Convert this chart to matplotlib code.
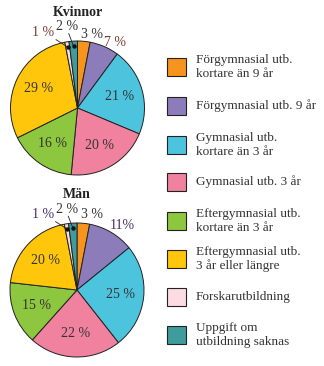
import numpy as np
import matplotlib.pyplot as plt
from matplotlib.patches import Rectangle

plt.rcParams['font.family'] = ['Liberation Serif', 'DejaVu Serif']

# Utbildningsnivå, andel i procent
categories = [
    'Förgymnasial utb.\nkortare än 9 år',
    'Förgymnasial utb. 9 år',
    'Gymnasial utb.\nkortare än 3 år',
    'Gymnasial utb. 3 år',
    'Eftergymnasial utb.\nkortare än 3 år',
    'Eftergymnasial utb.\n3 år eller längre',
    'Forskarutbildning',
    'Uppgift om\nutbildning saknas',
]
kvinnor = [3, 7, 21, 20, 16, 29, 1, 2]
man = [3, 11, 25, 22, 15, 20, 1, 2]
colors = ['#F7941D', '#8C7DBA', '#4DC4DD', '#F0819F',
          '#8DC63F', '#FFC60B', '#FCDCE2', '#3E9C9C']

W, H = 324, 366
fig = plt.figure(figsize=(W / 100, H / 100), dpi=100)


def px_axes(x0, y0, w, h):
    # axes placed in pixel coordinates measured from the top-left corner
    return fig.add_axes([x0 / W, 1 - (y0 + h) / H, w / W, h / H])


def draw_pie(ax, values, title, small_offsets, small_colors):
    wedges, _ = ax.pie(values, colors=colors, startangle=90, counterclock=False,
                       radius=1, wedgeprops=dict(edgecolor='#222222', linewidth=0.7))
    ax.set_xlim(-1, 1)
    ax.set_ylim(-1, 1)
    ax.set_aspect('equal')
    ax.axis('off')
    ax.text(0, 1.43, title, ha='center', va='center', fontsize=10,
            fontweight='bold', color='#222222')
    for i, (w, v) in enumerate(zip(wedges, values)):
        ang = np.deg2rad((w.theta1 + w.theta2) / 2)
        txt = f'{v} %' if v < 10 or i != 1 else f'{v}%'
        if i in small_offsets:
            lx, ly = small_offsets[i]
            ax.text(lx, ly, txt, ha='center', va='center', fontsize=10,
                    color=small_colors.get(i, '#333333'), clip_on=False)
            if i in (6, 7):
                px, py = 0.92 * np.cos(ang), 0.92 * np.sin(ang)
                sx = lx + (0.19 if i == 6 else 0.02)
                sy = ly - 0.1
                ax.plot([sx, px], [sy, py], color='#222222', lw=0.6,
                        clip_on=False)
                ax.plot(px, py, 'o', color='#111111', ms=2.2, clip_on=False)
        else:
            ax.text(0.65 * np.cos(ang), 0.65 * np.sin(ang), txt, ha='center',
                    va='center', fontsize=10, color='#333333')


ax1 = px_axes(10.5, 41, 134, 134)
draw_pie(ax1, kvinnor, 'Kvinnor',
         {0: (0.22, 1.09), 1: (0.56, 0.98), 6: (-0.51, 1.12), 7: (-0.15, 1.21)},
         {1: '#7A3A30', 6: '#7A3A30'})

ax2 = px_axes(10, 223, 134, 134)
draw_pie(ax2, man, 'Män',
         {0: (0.22, 1.12), 1: (0.67, 0.97), 6: (-0.51, 1.12), 7: (-0.15, 1.2)},
         {1: '#4B2E6A', 6: '#4B2E6A'})

# Teckenförklaring
leg = fig.add_axes([0, 0, 1, 1])
leg.set_xlim(0, W)
leg.set_ylim(H, 0)
leg.axis('off')
row_y = [67, 106, 145, 182, 221, 259, 297, 335]
for y, c, lab in zip(row_y, colors, categories):
    leg.add_patch(Rectangle((167, y - 9), 19, 18, facecolor=c,
                            edgecolor='#222222', linewidth=0.8))
    leg.text(196, y, lab, ha='left', va='center', fontsize=9.5,
             color='#333333', linespacing=1.12)

fig.savefig('out.png', dpi=100)
